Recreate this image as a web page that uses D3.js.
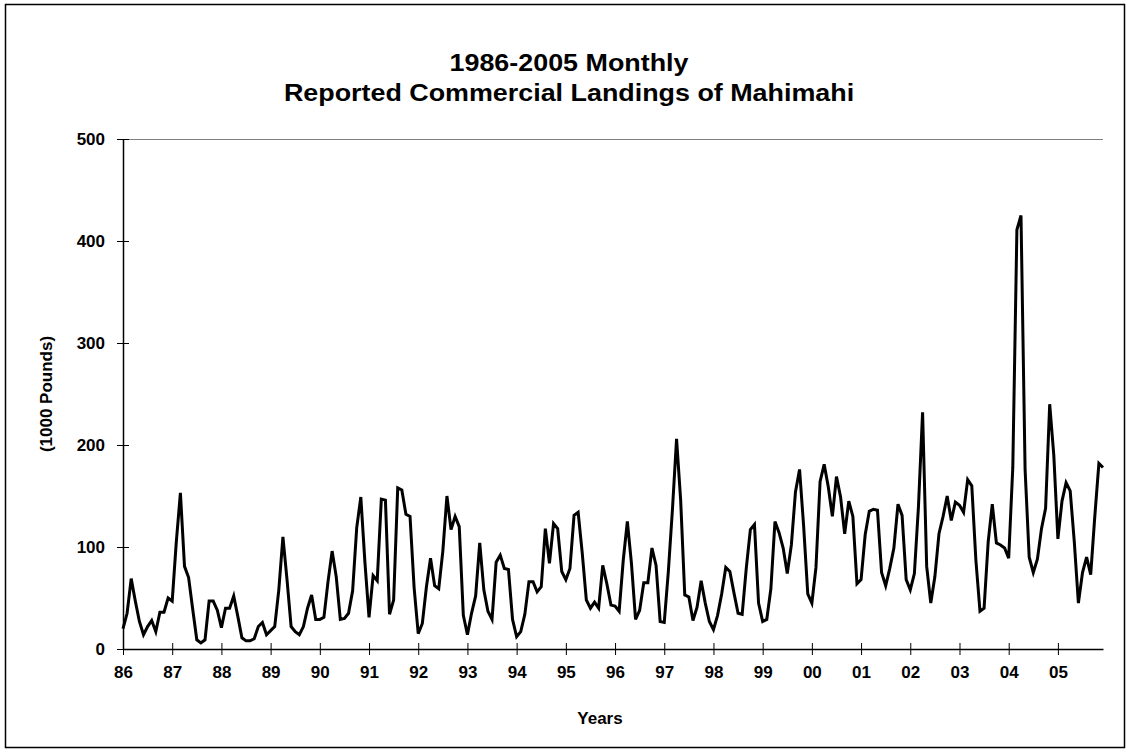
<!DOCTYPE html>
<html>
<head>
<meta charset="utf-8">
<script src="https://cdn.jsdelivr.net/npm/d3@7"></script>
<style>
  body { margin: 0; background: #fff; }
  text { font-family: "Liberation Sans", Arial, sans-serif; font-weight: bold; }
</style>
</head>
<body>
<script>
var yearLabels = ["86","87","88","89","90","91","92","93","94","95",
                  "96","97","98","99","00","01","02","03","04","05"];

// monthly landings, 1000 pounds, one array per year (Jan..Dec)
var y1986 = [20, 35, 69, 47, 27, 14, 22, 28, 17, 36, 36, 50];
var y1987 = [47, 105, 153, 81, 70, 39, 9, 6, 9, 47, 47, 38];
var y1988 = [21, 40, 40, 52, 32, 11, 8, 8, 10, 22, 26, 14];
var y1989 = [18, 22, 58, 110, 68, 22, 17, 14, 22, 40, 53, 29];
var y1990 = [29, 31, 66, 96, 71, 29, 30, 35, 57, 119, 149, 85];
var y1991 = [31, 72, 67, 147, 146, 34, 48, 158, 156, 132, 130, 60];
var y1992 = [15, 25, 61, 89, 62, 59, 96, 150, 117, 130, 120, 33];
var y1993 = [14, 35, 52, 104, 58, 37, 29, 85, 92, 79, 78, 29];
var y1994 = [12, 17, 34, 66, 66, 56, 61, 118, 84, 123, 118, 76];
var y1995 = [68, 79, 131, 134, 94, 48, 40, 46, 40, 82, 64, 43];
var y1996 = [42, 37, 87, 125, 84, 29, 38, 65, 65, 99, 82, 27];
var y1997 = [26, 76, 137, 206, 146, 53, 51, 28, 41, 67, 45, 27];
var y1998 = [19, 33, 54, 80, 76, 55, 35, 34, 79, 117, 122, 45];
var y1999 = [27, 29, 59, 125, 114, 99, 74, 102, 154, 176, 120, 54];
var y2000 = [45, 80, 164, 181, 159, 130, 169, 149, 113, 145, 130, 64];
var y2001 = [68, 112, 135, 137, 136, 75, 62, 79, 99, 142, 131, 68];
var y2002 = [58, 74, 140, 232, 81, 45, 71, 113, 130, 150, 126, 144];
var y2003 = [141, 134, 166, 160, 87, 37, 40, 105, 142, 104, 102, 99];
var y2004 = [89, 178, 411, 425, 176, 90, 75, 88, 118, 138, 240, 190];
var y2005 = [108, 145, 163, 155, 105, 45, 75, 90, 73, 130, 182, 178];

var landings = [].concat(y1986, y1987, y1988, y1989, y1990, y1991, y1992,
  y1993, y1994, y1995, y1996, y1997, y1998, y1999, y2000, y2001, y2002,
  y2003, y2004, y2005);

var yTicks = [0, 100, 200, 300, 400, 500];

var width = 1130, height = 753;
var margin = {top: 139, right: 27, bottom: 104, left: 123};

var svg = d3.select("body").append("svg")
    .attr("width", width)
    .attr("height", height);

svg.append("rect")
    .attr("x", 5.5).attr("y", 4.5)
    .attr("width", 1119).attr("height", 743)
    .attr("fill", "#fff")
    .attr("stroke", "#000")
    .attr("stroke-width", 1.5);

var xScale = d3.scaleLinear()
    .domain([0, landings.length - 1])
    .range([margin.left, width - margin.right]);

var yScale = d3.scaleLinear()
    .domain([0, 500])
    .range([height - margin.bottom, margin.top]);

// top border of plot area
svg.append("line")
    .attr("x1", xScale(0)).attr("x2", xScale(landings.length - 1))
    .attr("y1", yScale(500) + 0.5).attr("y2", yScale(500) + 0.5)
    .attr("stroke", "#808080")
    .attr("stroke-width", 1);

var xAxis = d3.axisBottom(xScale)
    .tickValues(d3.range(0, landings.length, 12))
    .tickFormat(function(d) { return yearLabels[d / 12]; })
    .tickSizeInner(6)
    .tickSizeOuter(0)
    .tickPadding(11);

var yAxis = d3.axisLeft(yScale)
    .tickValues(yTicks)
    .tickSizeInner(6)
    .tickSizeOuter(0)
    .tickPadding(12);

var gx = svg.append("g")
    .attr("transform", "translate(0," + yScale(0) + ")")
    .call(xAxis);

var gy = svg.append("g")
    .attr("transform", "translate(" + xScale(0) + ",0)")
    .call(yAxis);

// ticks cross the axis line
gx.selectAll(".tick line").attr("y1", -6).attr("stroke", "#000");
gy.selectAll(".tick line").attr("x1", 6).attr("stroke", "#000");
gx.select(".domain").attr("stroke", "#000").attr("stroke-width", 1.5);
gy.select(".domain").attr("stroke", "#000").attr("stroke-width", 1.5);

gx.selectAll("text").attr("font-size", 17).attr("fill", "#000")
    .style("font-family", "Liberation Sans, Arial, sans-serif").style("font-weight", "bold");
gy.selectAll("text").attr("font-size", 17).attr("fill", "#000")
    .style("font-family", "Liberation Sans, Arial, sans-serif").style("font-weight", "bold");

var line = d3.line()
    .x(function(d, i) { return xScale(i); })
    .y(function(d) { return yScale(d); });

svg.append("path")
    .datum(landings)
    .attr("d", line)
    .attr("fill", "none")
    .attr("stroke", "#000")
    .attr("stroke-width", 3)
    .attr("stroke-linejoin", "miter");

// titles (slightly stretched sideways like the original)
svg.append("text")
    .attr("transform", "translate(569,71) scale(1.12,1)")
    .attr("text-anchor", "middle")
    .attr("font-size", 24)
    .text("1986-2005 Monthly");

svg.append("text")
    .attr("transform", "translate(569,101) scale(1.12,1)")
    .attr("text-anchor", "middle")
    .attr("font-size", 24)
    .text("Reported Commercial Landings of Mahimahi");

svg.append("text")
    .attr("x", 600).attr("y", 724)
    .attr("text-anchor", "middle")
    .attr("font-size", 17)
    .text("Years");

svg.append("text")
    .attr("transform", "translate(52," + ((yScale(0) + yScale(500)) / 2) + ") rotate(-90)")
    .attr("text-anchor", "middle")
    .attr("font-size", 17)
    .text("(1000 Pounds)");
</script>
</body>
</html>
